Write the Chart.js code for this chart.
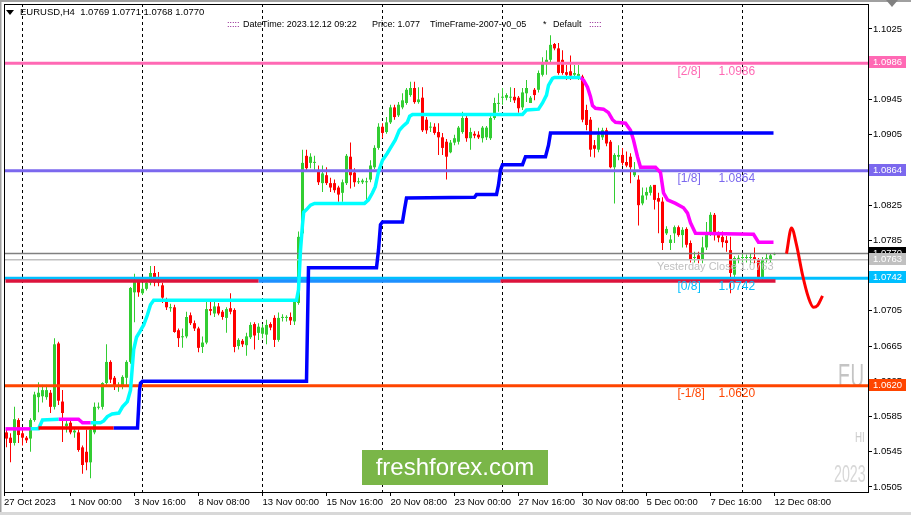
<!DOCTYPE html>
<html>
<head>
<meta charset="utf-8">
<script src="https://cdn.jsdelivr.net/npm/chart.js@4.4.0/dist/chart.umd.min.js"></script>
<style>
  html, body { margin: 0; padding: 0; background: #fff; }
</style>
</head>
<body>
<canvas id="c" width="911" height="515"></canvas>
<script>
// ---- data (EURUSD H4, bar index 1 = 27 Oct 04:00, 5 = 30 Oct 00:00) ----
const firstIdx = 1;
// [open, high, low, close]
const ohlc = [
  [1.0567,1.0572,1.0550,1.0560],[1.0561,1.0566,1.0533,1.0555],[1.0555,1.0596,1.0552,1.0582],[1.0581,1.0583,1.0555,1.0564],
  [1.0566,1.0572,1.0552,1.0561],[1.0561,1.0563,1.0555,1.0558],[1.0560,1.0583,1.0545,1.0581],[1.0581,1.0613,1.0579,1.0610],
  [1.0607,1.0624,1.0590,1.0612],[1.0608,1.0621,1.0601,1.0615],[1.0607,1.0621,1.0604,1.0615],[1.0612,1.0615,1.0589,1.0596],
  [1.0596,1.0674,1.0593,1.0667],[1.0668,1.0670,1.0598,1.0603],[1.0602,1.0615,1.0556,1.0589],[1.0574,1.0583,1.0567,1.0577],
  [1.0578,1.0581,1.0565,1.0567],[1.0567,1.0572,1.0561,1.0569],[1.0567,1.0570,1.0545,1.0547],[1.0550,1.0552,1.0520,1.0530],
  [1.0545,1.0570,1.0524,1.0533],[1.0533,1.0573,1.0515,1.0570],[1.0567,1.0601,1.0565,1.0596],[1.0595,1.0601,1.0593,1.0596],
  [1.0596,1.0624,1.0593,1.0623],[1.0623,1.0667,1.0621,1.0647],[1.0647,1.0649,1.0623,1.0627],[1.0629,1.0631,1.0615,1.0619],
  [1.0619,1.0624,1.0613,1.0621],[1.0619,1.0632,1.0616,1.0630],[1.0629,1.0649,1.0619,1.0647],[1.0647,1.0732,1.0645,1.0731],
  [1.0726,1.0747,1.0692,1.0738],[1.0738,1.0740,1.0721,1.0726],[1.0725,1.0737,1.0723,1.0730],[1.0730,1.0740,1.0728,1.0737],
  [1.0737,1.0756,1.0734,1.0748],[1.0748,1.0756,1.0733,1.0737],[1.0740,1.0749,1.0733,1.0737],[1.0734,1.0737,1.0714,1.0720],
  [1.0717,1.0720,1.0706,1.0709],[1.0708,1.0713,1.0704,1.0709],[1.0709,1.0712,1.0680,1.0681],[1.0683,1.0685,1.0664,1.0674],
  [1.0675,1.0685,1.0663,1.0676],[1.0676,1.0704,1.0674,1.0698],[1.0700,1.0703,1.0689,1.0691],[1.0691,1.0694,1.0682,1.0685],
  [1.0685,1.0687,1.0658,1.0663],[1.0664,1.0676,1.0657,1.0669],[1.0669,1.0715,1.0667,1.0707],[1.0707,1.0715,1.0700,1.0705],
  [1.0702,1.0715,1.0698,1.0710],[1.0710,1.0714,1.0700,1.0702],[1.0704,1.0706,1.0695,1.0698],[1.0697,1.0709,1.0680,1.0707],
  [1.0708,1.0725,1.0701,1.0704],[1.0706,1.0708,1.0658,1.0664],[1.0665,1.0674,1.0661,1.0672],[1.0671,1.0673,1.0664,1.0667],
  [1.0666,1.0680,1.0654,1.0676],[1.0675,1.0692,1.0673,1.0689],[1.0690,1.0692,1.0661,1.0677],[1.0680,1.0691,1.0672,1.0687],
  [1.0679,1.0690,1.0674,1.0686],[1.0678,1.0695,1.0667,1.0689],[1.0690,1.0692,1.0683,1.0686],[1.0697,1.0700,1.0664,1.0672],
  [1.0672,1.0703,1.0670,1.0697],[1.0697,1.0701,1.0693,1.0698],[1.0697,1.0700,1.0693,1.0698],[1.0698,1.0703,1.0689,1.0694],
  [1.0693,1.0717,1.0689,1.0715],[1.0714,1.0795,1.0712,1.0789],[1.0793,1.0888,1.0791,1.0873],[1.0881,1.0888,1.0863,1.0867],
  [1.0873,1.0884,1.0867,1.0880],[1.0873,1.0881,1.0865,1.0874],[1.0865,1.0870,1.0848,1.0851],[1.0850,1.0870,1.0840,1.0861],
  [1.0859,1.0868,1.0848,1.0850],[1.0850,1.0856,1.0840,1.0845],[1.0850,1.0854,1.0839,1.0842],[1.0845,1.0847,1.0829,1.0837],
  [1.0839,1.0854,1.0829,1.0851],[1.0850,1.0883,1.0848,1.0881],[1.0880,1.0896,1.0844,1.0859],[1.0862,1.0867,1.0846,1.0851],
  [1.0851,1.0856,1.0849,1.0852],[1.0851,1.0855,1.0849,1.0853],[1.0851,1.0856,1.0827,1.0852],[1.0854,1.0876,1.0851,1.0870],
  [1.0868,1.0893,1.0866,1.0890],[1.0890,1.0918,1.0888,1.0914],[1.0914,1.0918,1.0901,1.0907],[1.0908,1.0925,1.0906,1.0919],
  [1.0919,1.0939,1.0917,1.0936],[1.0936,1.0939,1.0922,1.0925],[1.0927,1.0942,1.0925,1.0939],[1.0936,1.0952,1.0934,1.0944],
  [1.0941,1.0958,1.0939,1.0956],[1.0950,1.0965,1.0948,1.0958],[1.0958,1.0965,1.0940,1.0942],[1.0942,1.0959,1.0940,1.0945],
  [1.0947,1.0959,1.0908,1.0910],[1.0922,1.0925,1.0906,1.0910],[1.0913,1.0919,1.0908,1.0914],[1.0914,1.0918,1.0905,1.0907],
  [1.0908,1.0918,1.0882,1.0902],[1.0902,1.0907,1.0882,1.0890],[1.0897,1.0900,1.0854,1.0880],[1.0885,1.0899,1.0884,1.0896],
  [1.0896,1.0905,1.0893,1.0901],[1.0897,1.0915,1.0894,1.0913],[1.0908,1.0931,1.0906,1.0924],[1.0924,1.0927,1.0897,1.0901],
  [1.0901,1.0913,1.0888,1.0908],[1.0906,1.0909,1.0901,1.0904],[1.0905,1.0909,1.0900,1.0902],[1.0901,1.0915,1.0896,1.0913],
  [1.0902,1.0915,1.0899,1.0913],[1.0901,1.0926,1.0899,1.0924],[1.0924,1.0947,1.0922,1.0941],[1.0940,1.0952,1.0931,1.0941],
  [1.0947,1.0958,1.0939,1.0948],[1.0947,1.0952,1.0944,1.0950],[1.0947,1.0959,1.0942,1.0948],[1.0948,1.0958,1.0941,1.0944],
  [1.0947,1.0949,1.0930,1.0935],[1.0936,1.0958,1.0933,1.0953],[1.0952,1.0967,1.0942,1.0958],[1.0941,1.0949,1.0941,1.0947],
  [1.0956,1.0958,1.0944,1.0950],[1.0956,1.0978,1.0953,1.0975],[1.0973,1.0993,1.0971,1.0987],[1.0986,1.1001,1.0973,1.0990],
  [1.0990,1.1018,1.0987,1.1007],[1.1008,1.1009,1.1001,1.1003],[1.1003,1.1009,1.0973,1.0975],[1.0990,1.1001,1.0973,1.0975],
  [1.0976,1.0984,1.0967,1.0973],[1.0977,1.0995,1.0967,1.0972],[1.0973,1.0984,1.0970,1.0975],[1.0971,1.0984,1.0967,1.0974],
  [1.0971,1.0973,1.0919,1.0922],[1.0933,1.0939,1.0910,1.0916],[1.0922,1.0925,1.0880,1.0888],[1.0893,1.0899,1.0879,1.0889],
  [1.0888,1.0913,1.0885,1.0905],[1.0902,1.0913,1.0899,1.0910],[1.0910,1.0913,1.0892,1.0895],[1.0897,1.0899,1.0867,1.0868],
  [1.0868,1.0884,1.0827,1.0882],[1.0880,1.0893,1.0876,1.0882],[1.0882,1.0890,1.0870,1.0873],[1.0874,1.0886,1.0868,1.0870],
  [1.0880,1.0884,1.0850,1.0868],[1.0859,1.0874,1.0857,1.0863],[1.0854,1.0859,1.0802,1.0825],[1.0827,1.0845,1.0825,1.0836],
  [1.0836,1.0845,1.0831,1.0840],[1.0839,1.0848,1.0836,1.0846],[1.0848,1.0848,1.0820,1.0831],[1.0833,1.0839,1.0793,1.0829],
  [1.0829,1.0834,1.0774,1.0782],[1.0793,1.0801,1.0791,1.0798],[1.0782,1.0791,1.0774,1.0786],[1.0793,1.0802,1.0782,1.0800],
  [1.0800,1.0802,1.0789,1.0791],[1.0791,1.0800,1.0777,1.0797],[1.0798,1.0800,1.0777,1.0780],[1.0782,1.0785,1.0760,1.0763],
  [1.0765,1.0772,1.0760,1.0766],[1.0768,1.0772,1.0759,1.0763],[1.0763,1.0789,1.0759,1.0777],[1.0777,1.0806,1.0774,1.0793],
  [1.0793,1.0817,1.0790,1.0814],[1.0814,1.0816,1.0785,1.0791],[1.0791,1.0795,1.0783,1.0788],[1.0789,1.0795,1.0777,1.0783],
  [1.0785,1.0790,1.0772,1.0782],[1.0774,1.0789,1.0725,1.0748],[1.0746,1.0767,1.0742,1.0765],[1.0764,1.0768,1.0759,1.0765],
  [1.0765,1.0770,1.0759,1.0766],[1.0765,1.0769,1.0760,1.0766],[1.0765,1.0770,1.0757,1.0766],[1.0766,1.0777,1.0759,1.0763],
  [1.0763,1.0765,1.0740,1.0742],[1.0742,1.0766,1.0740,1.0763],[1.0764,1.0770,1.0760,1.0765],[1.0763,1.0770,1.0760,1.0768],
  [1.0769,1.0771,1.0768,1.0770]
];

// trailing-stop style indicator lines: [bar index, price]
const magentaStart = [[0.75,1.0571],[7,1.0571]];
const cyanA = [[7,1.0571],[9,1.0571],[10,1.0581],[14,1.0582]];
const magentaA = [[14,1.0582],[19,1.0582],[20,1.0578],[22,1.0578]];
const cyanB = [[22,1.0578],[24.5,1.0578],[25.3,1.0580],[26.2,1.0585],[27.4,1.0588],[29.1,1.0589],[30,1.0596],
  [31.2,1.0602],[32,1.0615],[32.4,1.0638],[32.8,1.0661],[33.5,1.0675],[34.3,1.0681],[35.3,1.0689],[36.2,1.0700],
  [37,1.0712],[37.8,1.0717],[73.5,1.0717],[74,1.0729],[74.5,1.0774],[75,1.0803],[75.3,1.0817],[76,1.0820],[77,1.0825],
  [78,1.0827],[90.5,1.0827],[91.5,1.0831],[92.5,1.0839],[93.2,1.0846],[94,1.0863],[95,1.0876],[96.2,1.0884],[97,1.0890],
  [98.2,1.0899],[99.2,1.0910],[100.2,1.0915],[101.2,1.0919],[101.8,1.0926],[102.5,1.0928],[130,1.0928],[131,1.0933],
  [134,1.0934],[135,1.0941],[136,1.0950],[136.5,1.0961],[137.5,1.0969],[138,1.0970],[144.5,1.0970]];
const magentaB = [[144.5,1.0970],[145.25,1.0967],[146.25,1.0959],[147,1.0948],[147.5,1.0938],[148.25,1.0935],
  [150.25,1.0934],[151.5,1.0930],[152.5,1.0922],[153.25,1.0919],[155.75,1.0918],[157,1.0910],[157.75,1.0899],
  [158.75,1.0880],[159.5,1.0868],[163.25,1.0868],[164.5,1.0862],[165.25,1.0839],[166.25,1.0831],[168.25,1.0827],
  [170.25,1.0822],[171.25,1.0816],[172,1.0805],[173.25,1.0793],[187.75,1.0792],[189,1.0783],[192.75,1.0783]];
const redStep = [[9,1.0572],[27.75,1.0572]];
const blueStep = [[27.75,1.0572],[33.75,1.0572],[34,1.0593],[34.25,1.0615],[34.5,1.0623],[35,1.0625],[76,1.0625],
  [76.5,1.0754],[93.5,1.0754],[94,1.0774],[94.5,1.0803],[95,1.0806],[100,1.0806],[100.5,1.0820],[101,1.0833],
  [118,1.0834],[118.5,1.0837],[123.5,1.0837],[124,1.0848],[124.5,1.0865],[125,1.0871],[130,1.0871],[130.75,1.0880],
  [135.75,1.0880],[136.5,1.0893],[137,1.0907],[192.75,1.0907]];
const forecast = [[196,1.0770],[197.25,1.0799],[198.5,1.0780],[200,1.0746],[201.5,1.0720],[202.75,1.0709],
  [203.75,1.0711],[205,1.0722]];

// levels
const murrey = [1.0986, 1.0864, 1.0742, 1.0620];
const murreyNames = ['[2/8]', '[1/8]', '[0/8]', '[-1/8]'];
const bidPrice = 1.0770;
const yesterdayClose = 1.0763;
const weekLevel = 1.0739;
const weekRed = [[0.75, 64], [124.5, 193.25]];
const weekBlue = [[64, 124.5]];

// axes
const xTickIdx = [0.375, 17, 33, 49, 65, 81, 97, 113, 129, 145, 161, 177, 193];
const xTickText = ['27 Oct 2023', '1 Nov 00:00', '3 Nov 16:00', '8 Nov 08:00', '13 Nov 00:00', '15 Nov 16:00',
  '20 Nov 08:00', '23 Nov 00:00', '27 Nov 16:00', '30 Nov 08:00', '5 Dec 00:00', '7 Dec 16:00', '12 Dec 08:00'];
const weekIdx = [5, 35, 65, 95, 125, 155, 185];
const yTicks = [1.0505, 1.0545, 1.0585, 1.0625, 1.0665, 1.0705, 1.0745, 1.0785, 1.0825, 1.0865, 1.0905, 1.0945, 1.0985, 1.1025];

// ---- chart ----
const FONT = 'Liberation Sans, Arial, sans-serif';
const bull = '#32CD32', bear = '#FF0000';
const barColors = ohlc.map(c => c[3] >= c[0] ? bull : bear);
const wicks = ohlc.map((c, k) => ({x: firstIdx + k, y: [c[2], c[1]]}));
const bodies = ohlc.map((c, k) => ({x: firstIdx + k, y: [c[0], c[3]]}));
const pts = arr => arr.map(p => ({x: p[0], y: p[1]}));
const hline = (from, to, v) => [{x: from, y: v}, {x: to, y: v}];

function lineDs(data, color, width, order) {
  return {type: 'line', data: data, borderColor: color, borderWidth: width, pointRadius: 0,
          tension: 0, order: order, fill: false};
}

const levelColors = ['#FF69B4', '#7B68EE', '#00BFFF', '#FF4500'];
const datasets = [];
murrey.forEach((v, k) => datasets.push(lineDs(hline(0, 217, v), levelColors[k], 3, 2)));
datasets.push(lineDs(hline(0, 217, bidPrice), '#808080', 1.5, 2));
datasets.push(lineDs(hline(0, 217, yesterdayClose), '#C0C0C0', 1.5, 2));
weekRed.forEach(s => datasets.push(lineDs(hline(s[0], s[1], weekLevel), '#DC143C', 3.5, 1)));
weekBlue.forEach(s => datasets.push(lineDs(hline(s[0], s[1], weekLevel), '#1E90FF', 3.5, 1)));
datasets.push(lineDs(pts(redStep), '#FF0000', 3.5, 0));
datasets.push(lineDs(pts(blueStep), '#0000FF', 3.5, 0));
datasets.push(lineDs(pts(magentaStart), '#FF00FF', 3.5, 0));
datasets.push(lineDs(pts(cyanA), '#00FFFF', 3.5, 0));
datasets.push(lineDs(pts(magentaA), '#FF00FF', 3.5, 0));
datasets.push(lineDs(pts(cyanB), '#00FFFF', 3.5, 0));
datasets.push(lineDs(pts(magentaB), '#FF00FF', 3.5, 0));
const fc = lineDs(pts(forecast), '#FF0000', 3, 0);
fc.cubicInterpolationMode = 'monotone';
datasets.push(fc);
datasets.push({type: 'bar', data: bodies, backgroundColor: barColors, barThickness: 3, grouped: false,
  minBarLength: 1, borderWidth: 0, inflateAmount: 0, order: 5});
datasets.push({type: 'bar', data: wicks, backgroundColor: barColors, barThickness: 1, grouped: false,
  borderWidth: 0, inflateAmount: 0, order: 6});

// narrow grey watermark text
function narrowText(c, txt, x, y, size, color, sx) {
  c.save();
  c.translate(x, y);
  c.scale(sx, 1);
  c.font = size + 'px ' + FONT;
  c.fillStyle = color;
  c.fillText(txt, 0, 0);
  c.restore();
}

const overlay = {
  id: 'overlay',
  beforeDraw(chart) {
    const c = chart.ctx;
    c.save();
    c.fillStyle = '#fff';
    c.fillRect(0, 0, chart.width, chart.height);
    c.restore();
  },
  beforeDatasetsDraw(chart) {
    const c = chart.ctx, a = chart.chartArea;
    c.save();
    c.beginPath(); c.rect(a.left, a.top, a.right - a.left, a.bottom - a.top); c.clip();
    c.textBaseline = 'alphabetic';
    narrowText(c, 'EU', 838, 387, 34, '#C4C4C4', 0.55);
    narrowText(c, 'HI', 855, 442, 14, '#CCCCCC', 0.7);
    narrowText(c, '2023', 834, 482, 23, '#D8D8D8', 0.62);
    c.restore();
  },
  afterDatasetsDraw(chart) {
    const c = chart.ctx, xs = chart.scales.x, ys = chart.scales.y;
    c.save();
    c.textBaseline = 'middle';
    c.font = '12px ' + FONT;
    murrey.forEach((v, k) => {
      const y = ys.getPixelForValue(v) + 8;
      c.fillStyle = levelColors[k];
      c.textAlign = 'left';
      c.fillText(murreyNames[k], xs.getPixelForValue(168.75), y);
      c.fillText(v.toFixed(4), xs.getPixelForValue(179), y);
    });
    c.font = '11px ' + FONT;
    c.fillStyle = '#C0C0C0';
    c.textAlign = 'right';
    c.fillText('Yesterday Close ' + yesterdayClose.toFixed(4), xs.getPixelForValue(192.75), ys.getPixelForValue(yesterdayClose) + 7);

    // freshforex badge
    c.fillStyle = '#7AB648';
    c.fillRect(362, 450, 186, 35);
    c.fillStyle = '#fff';
    c.font = '24px ' + FONT;
    c.textAlign = 'center';
    c.fillText('freshforex.com', 455, 468);

    // header texts
    c.textAlign = 'left';
    c.font = '9.5px ' + FONT;
    c.fillStyle = '#000';
    const last = ohlc[ohlc.length - 1];
    c.fillText('EURUSD,H4  ' + last.map(v => v.toFixed(4)).join(' '), 20, 12);
    c.beginPath(); c.moveTo(6, 10); c.lineTo(14, 10); c.lineTo(10, 15); c.closePath(); c.fill();
    c.font = '9px ' + FONT;
    const head = [[':::::', 227, '#800080'], ['DateTime: 2023.12.12 09:22', 243, '#000'], ['Price: 1.077', 372, '#000'],
      ['TimeFrame-2007-v0_05', 430, '#000'], ['*', 543, '#000'], ['Default', 553, '#000'], [':::::', 589, '#800080']];
    head.forEach(h => { c.fillStyle = h[2]; c.fillText(h[0], h[1], 25); });
    c.restore();
  },
  afterDraw(chart) {
    const c = chart.ctx, a = chart.chartArea, ys = chart.scales.y;
    c.save();
    // frame
    c.strokeStyle = '#000';
    c.lineWidth = 1;
    c.strokeRect(a.left + 0.5, a.top + 0.5, a.right - a.left, a.bottom - a.top);
    // price tags
    const tags = [[murrey[0], '#FF69B4'], [murrey[1], '#7B68EE'], [bidPrice, '#000000'],
      [yesterdayClose, '#C0C0C0'], [murrey[2], '#00BFFF'], [murrey[3], '#FF4500']];
    c.font = '9.5px ' + FONT;
    c.textBaseline = 'middle';
    c.textAlign = 'left';
    tags.forEach(t => {
      const y = Math.round(ys.getPixelForValue(t[0])) - 1;
      c.fillStyle = t[1];
      c.fillRect(a.right + 1, y - 6, 37, 12);
      c.fillStyle = '#fff';
      c.fillText(t[0].toFixed(4), a.right + 5, y);
    });
    // window edges
    c.fillStyle = '#A0A0A0';
    c.fillRect(0, 0, chart.width, 2);
    c.fillRect(0, 0, 1.5, chart.height);
    c.fillStyle = '#D8D8D8';
    c.fillRect(0, chart.height - 3, chart.width, 3);
    c.fillStyle = '#808080';
    c.beginPath(); c.moveTo(886, 0); c.lineTo(898, 0); c.lineTo(892, 7); c.closePath(); c.fill();
    c.restore();
  }
};

new Chart(document.getElementById('c'), {
  type: 'bar',
  data: {datasets: datasets},
  options: {
    responsive: false,
    animation: false,
    events: [],
    layout: {padding: {left: 4, top: 4, right: 0, bottom: 0}},
    plugins: {legend: {display: false}, tooltip: {enabled: false}},
    scales: {
      x: {
        type: 'linear', min: 0.375, max: 216.375, offset: false,
        afterBuildTicks: s => { s.ticks = [...new Set(xTickIdx.concat(weekIdx))].sort((p, q) => p - q).map(v => ({value: v})); },
        afterFit: s => { s.height = 23; s.paddingLeft = 0; s.paddingRight = 0; },
        ticks: {
          autoSkip: false, maxRotation: 0, align: 'start', padding: 1, color: '#000',
          font: {family: FONT, size: 9.5},
          callback: v => { const k = xTickIdx.indexOf(v); return k >= 0 ? xTickText[k] : ''; }
        },
        grid: {
          offset: false,
          color: ctx => (ctx.tick && weekIdx.includes(ctx.tick.value)) ? '#000' : 'rgba(0,0,0,0)',
          tickColor: ctx => (ctx.tick && xTickIdx.includes(ctx.tick.value)) ? '#000' : 'rgba(0,0,0,0)',
          tickLength: 4, lineWidth: 1
        },
        border: {display: true, color: '#000', width: 1, dash: [3, 3]}
      },
      y: {
        position: 'right', min: 1.049932, max: 1.105338,
        afterBuildTicks: s => { s.ticks = yTicks.map(v => ({value: v})); },
        afterFit: s => { s.width = 43; s.paddingTop = 0; s.paddingBottom = 0; },
        ticks: {padding: 1, color: '#000', font: {family: FONT, size: 9.5}, callback: v => v.toFixed(4)},
        grid: {drawOnChartArea: false, tickLength: 4, tickColor: '#000'},
        border: {display: true, color: '#000', width: 1}
      }
    }
  },
  plugins: [overlay]
});
</script>
</body>
</html>
